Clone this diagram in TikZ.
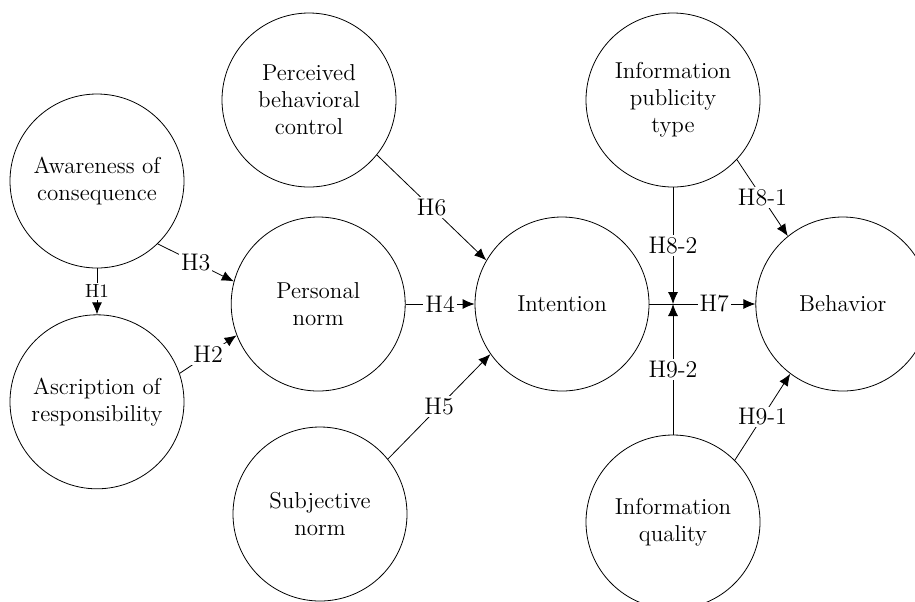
\documentclass[tikz,border=0pt]{standalone}
\usetikzlibrary{shapes,arrows,arrows.meta,positioning}

\begin{document}
\begin{tikzpicture}[x=0.5pt,y=-0.5pt]
\tikzstyle{block} = [circle, draw, align=center, minimum size=87pt,
    inner sep=0pt, font=\fontsize{11.5}{13.5}\selectfont]
\tikzstyle{hyp} = [fill=white, inner sep=1pt, font=\fontsize{12}{13}\selectfont]
\tikzstyle{small} = [hyp, font=\fontsize{9.5}{10}\selectfont]
\tikzstyle{line} = [draw, -{Latex[length=6pt,width=5pt]}]

\clip (0,0) rectangle (915,601);

\node [block] (aware) at (97,181) {Awareness of\\consequence};
\node [block, below=23pt of aware] (ascr) {Ascription of\\responsibility};
\node [block] (intent) at (562,304) {Intention};
\node [block, left=34.5pt of intent] (pnorm) {Personal\\norm};
\node [block, right=53pt of intent] (behav) {Behavior};
\node [block] (perc) at (309,100) {Perceived\\behavioral\\control};
\node [block] (subj) at (320,514) {Subjective\\norm};
\node [block] (pub) at (673,100) {Information\\publicity\\type};
\node [block] (qual) at (673,522) {Information\\quality};
\coordinate (mod) at (pub |- intent);

\path [line] (aware) -- node [small] {H1} (ascr);
\path [line] (ascr.19) -- node [hyp] {H2} (pnorm.201);
\path [line] (aware.-46) -- node [hyp] {H3} (pnorm.165);
\path [line] (pnorm) -- node [hyp] {H4} (intent);
\path [line] (subj.39) -- node [hyp] {H5} (intent.215);
\path [line] (perc.-39) -- node [hyp] {H6} (intent.150);

\path [draw] (intent) -- (mod);
\path [line] (mod) -- node [hyp] {H7} (behav);
\path [line] (pub.-43) -- node [hyp] {H8-1} (behav.129);
\path [line] (pub) -- node [hyp] {H8-2} (mod);
\path [line] (qual.45) -- node [hyp] {H9-1} (behav.-127);
\path [line] (qual) -- node [hyp] {H9-2} (mod);

\end{tikzpicture}
\end{document}
